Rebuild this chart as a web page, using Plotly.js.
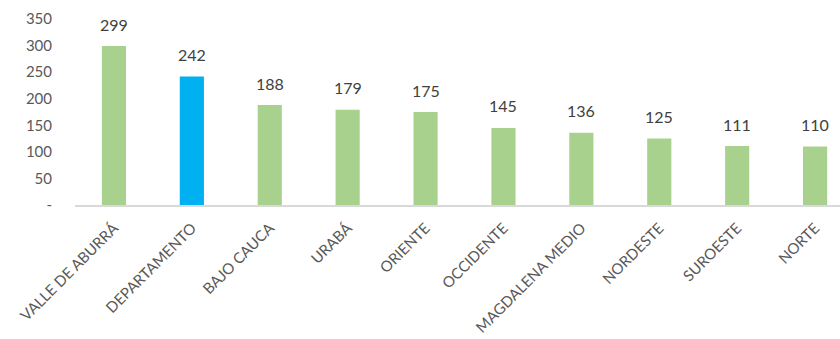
<!DOCTYPE html>
<html>
<head>
<meta charset="utf-8">
<script src="https://cdn.plot.ly/plotly-3.0.1.min.js"></script>
<style>html,body{margin:0;padding:0;background:#fff;}#chart{width:840px;height:339px;}</style>
</head>
<body>
<div id="chart"></div>
<script>
var categories = ["VALLE DE ABURRÁ","DEPARTAMENTO","BAJO CAUCA","URABÁ","ORIENTE","OCCIDENTE","MAGDALENA MEDIO","NORDESTE","SUROESTE","NORTE"];
var values = [299,242,188,179,175,145,136,125,111,110];
var barColors = ["#a9d18e","#00b0f0","#a9d18e","#a9d18e","#a9d18e","#a9d18e","#a9d18e","#a9d18e","#a9d18e","#a9d18e"];
var yTickVals = [0,50,100,150,200,250,300,350];
var yTickText = ["-","50","100","150","200","250","300","350"];

var font = "Lato, 'Open Sans', sans-serif";
var textColor = "#595959";

var trace = {
  type: "bar",
  x: categories,
  y: values,
  marker: {color: barColors},
  width: 0.31,
  hoverinfo: "skip"
};

var annotations = categories.map(function(c, i){
  return {
    x: c, y: values[i], xref: "x", yref: "y",
    text: String(values[i]), showarrow: false,
    yanchor: "middle", yshift: 22,
    font: {family: font, size: 16, color: "#404040"}
  };
});

var layout = {
  width: 840, height: 339,
  margin: {l: 75, r: 0, t: 19, b: 134},
  paper_bgcolor: "#fff", plot_bgcolor: "#fff",
  showlegend: false,
  xaxis: {
    type: "category",
    range: [-0.5, 9.32],
    tickangle: -45,
    tickfont: {family: font, size: 15, color: textColor},
    showline: true, linecolor: "#d9d9d9", linewidth: 1.5,
    showgrid: false, zeroline: false, ticks: "",
    ticklabelstandoff: 7
  },
  yaxis: {
    range: [0, 350],
    tickvals: yTickVals, ticktext: yTickText,
    tickfont: {family: font, size: 15, color: textColor},
    showgrid: false, zeroline: false, showline: false, ticks: "",
    ticklabelstandoff: 22
  },
  annotations: annotations
};

Plotly.newPlot("chart", [trace], layout, {displayModeBar: false, staticPlot: true});
</script>
</body>
</html>
